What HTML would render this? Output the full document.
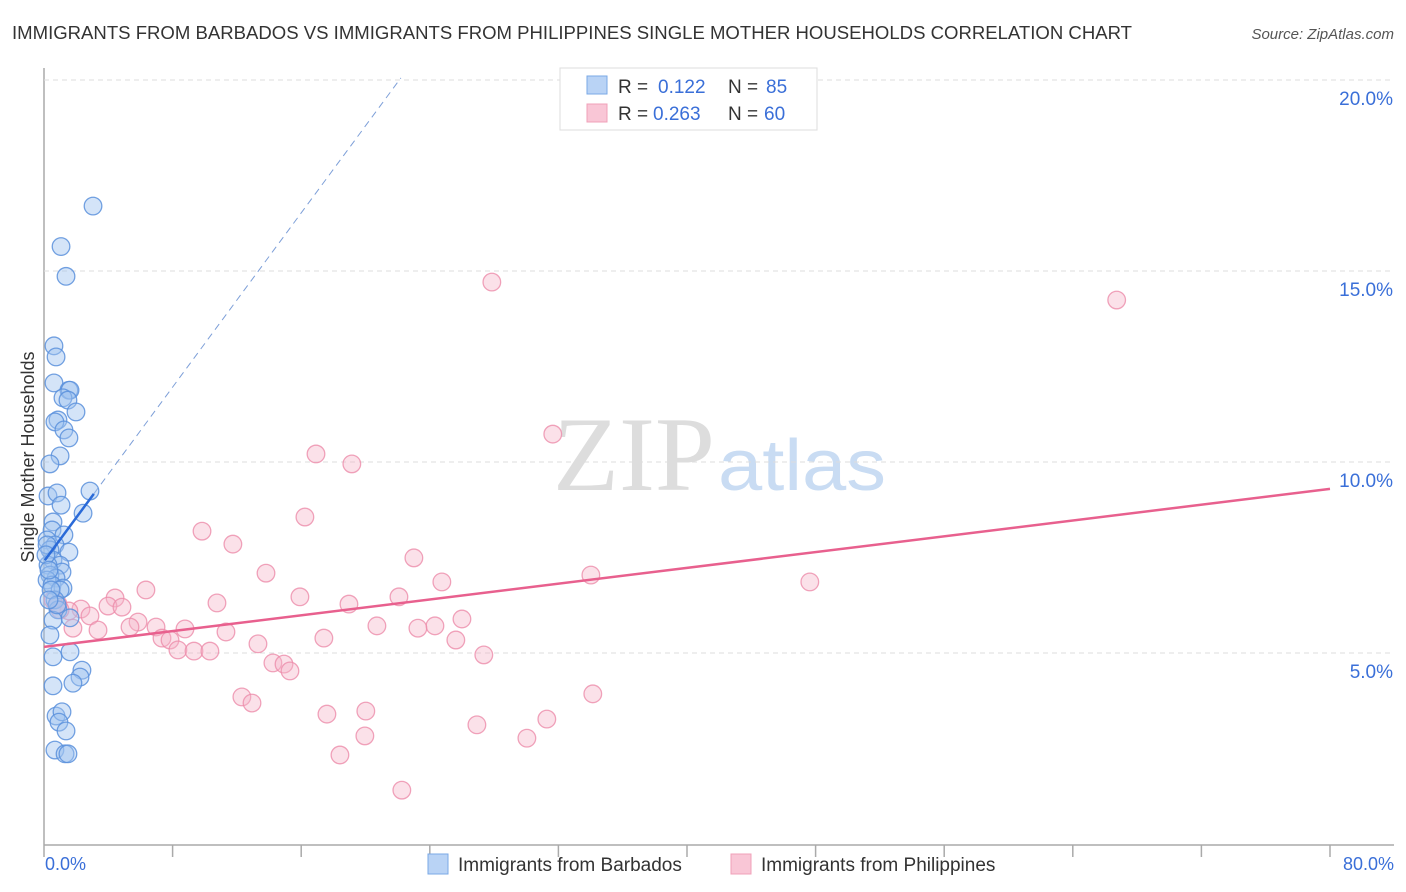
<!DOCTYPE html>
<html><head><meta charset="utf-8"><style>
body{margin:0;background:#fff;font-family:"Liberation Sans",sans-serif;}
svg{display:block}
</style></head><body>
<svg width="1406" height="892" id="chart">
<text x="12" y="39" font-size="18" fill="#333" textLength="1120" lengthAdjust="spacingAndGlyphs">IMMIGRANTS FROM BARBADOS VS IMMIGRANTS FROM PHILIPPINES SINGLE MOTHER HOUSEHOLDS CORRELATION CHART</text>
<text x="1394" y="39" font-size="15" fill="#555" font-style="italic" text-anchor="end">Source: ZipAtlas.com</text>
<text x="553" y="490" font-size="106" fill="#ddd" font-family="Liberation Serif,serif" textLength="162" lengthAdjust="spacingAndGlyphs">ZIP</text>
<text x="718" y="490" font-size="72" fill="#c9dcf3" textLength="168" lengthAdjust="spacingAndGlyphs">atlas</text>
<line x1="44" y1="68" x2="44" y2="845" stroke="#aaa" stroke-width="1.5"/>
<line x1="44" y1="845" x2="1394" y2="845" stroke="#aaa" stroke-width="1.5"/>
<text transform="translate(34,457) rotate(-90)" font-size="18" fill="#333" text-anchor="middle">Single Mother Households</text>
<text x="45" y="870" font-size="18" fill="#3a6fd8">0.0%</text>
<text x="1394" y="870" font-size="18" fill="#3a6fd8" text-anchor="end">80.0%</text>
<g id="grid"></g><g id="lines"></g><g id="pts"></g>
<g>
<rect x="560" y="68" width="257" height="62" fill="#fff" stroke="#ddd"/>
<rect x="587" y="76" width="20" height="18" fill="#b9d3f5" stroke="#7aa8e6"/>
<rect x="587" y="104" width="20" height="18" fill="#f9c6d6" stroke="#f0a0b8"/>
<text x="618" y="93" font-size="19" fill="#333">R =</text>
<text x="658" y="93" font-size="19" fill="#3a6fd8">0.122</text>
<text x="728" y="93" font-size="19" fill="#333">N =</text>
<text x="766" y="93" font-size="19" fill="#3a6fd8">85</text>
<text x="618" y="120" font-size="19" fill="#333">R =</text>
<text x="653" y="120" font-size="19" fill="#3a6fd8">0.263</text>
<text x="728" y="120" font-size="19" fill="#333">N =</text>
<text x="764" y="120" font-size="19" fill="#3a6fd8">60</text>
</g>
<g>
<rect x="428" y="854" width="20" height="20" fill="#b9d3f5" stroke="#7aa8e6"/>
<text x="458" y="871" font-size="19" fill="#333">Immigrants from Barbados</text>
<rect x="731" y="854" width="20" height="20" fill="#f9c6d6" stroke="#f0a0b8"/>
<text x="761" y="871" font-size="19" fill="#333">Immigrants from Philippines</text>
</g>
</svg>
<script>
const yTicks=[5,10,15,20];
const yTickLabels=["5.0%","10.0%","15.0%","20.0%"];
const xTicks=[0,8,16,24,32,40,48,56,64,72,80];
const blueX=[3.05,1.06,1.37,0.62,0.75,0.62,1.55,1.62,1.18,1.49,1.99,0.87,0.68,1.24,1.55,1.0,0.37,0.25,0.81,1.06,2.86,2.43,0.56,0.5,1.24,0.19,0.68,1.55,0.37,0.56,1.0,0.25,1.12,0.37,0.75,0.19,0.5,1.18,1.0,0.68,0.87,1.62,0.56,0.37,1.62,0.56,2.36,2.24,1.8,0.56,0.75,1.12,0.93,1.37,0.68,1.31,1.49,0.19,0.12,0.31,0.44,0.81,0.31];
const blueY=[16.7,15.64,14.86,13.04,12.75,12.07,11.88,11.88,11.68,11.62,11.31,11.1,11.05,10.84,10.63,10.16,9.95,9.11,9.19,8.87,9.24,8.66,8.43,8.22,8.09,7.96,7.83,7.64,7.7,7.43,7.3,7.3,7.12,7.04,6.96,6.91,6.78,6.7,6.65,6.39,6.13,5.92,5.86,5.47,5.03,4.9,4.55,4.37,4.21,4.14,3.35,3.46,3.19,2.96,2.46,2.36,2.36,7.83,7.57,7.17,6.65,6.26,6.39];
const pinkX=[27.86,66.73,31.65,16.92,19.15,16.23,9.83,11.75,23.01,13.81,34.02,24.75,47.64,6.34,22.08,15.92,4.42,10.76,18.97,3.98,4.85,2.3,1.55,26.0,2.86,5.85,20.71,24.32,23.26,5.35,6.97,8.77,1.8,3.36,11.32,7.34,17.41,7.84,25.62,8.33,9.33,10.32,13.31,27.36,14.24,14.93,15.3,12.31,12.94,34.14,20.02,17.6,31.28,26.93,19.96,30.04,18.41,22.26,0.87,0.56,1.0];
const pinkY=[14.71,14.24,10.73,10.21,9.95,8.56,8.19,7.85,7.49,7.09,7.04,6.86,6.86,6.65,6.47,6.47,6.44,6.31,6.28,6.23,6.2,6.15,6.1,5.89,5.97,5.81,5.71,5.71,5.65,5.68,5.68,5.63,5.65,5.6,5.55,5.39,5.39,5.34,5.34,5.08,5.05,5.05,5.24,4.95,4.74,4.71,4.53,3.85,3.69,3.93,3.48,3.4,3.27,3.12,2.83,2.77,2.33,1.41,6.28,6.39,6.13];
const blueTrend=[7.4,0.57];
const pinkTrend=[5.16,0.0517];
const NS="http://www.w3.org/2000/svg";
const X=v=>44+v*16.075, Y=v=>844-v*38.2;
function mk(t,a,p){const e=document.createElementNS(NS,t);for(const k in a)e.setAttribute(k,a[k]);p.appendChild(e);return e;}
const grid=document.getElementById('grid'),lines=document.getElementById('lines'),pts=document.getElementById('pts');
yTicks.forEach((t,i)=>{
 const l=mk('line',{x1:44,x2:1394,y1:Y(t),y2:Y(t),stroke:'#ddd','stroke-dasharray':'5,4'},grid);
 
 
 const tx=mk('text',{x:1393,y:Y(t)+25,'font-size':19,fill:'#3a6fd8','text-anchor':'end'},grid);
 tx.textContent=yTickLabels[i];
 
 
});
xTicks.forEach(t=>{
 const l=mk('line',{x1:X(t),x2:X(t),y1:845,y2:857,stroke:'#aaa','stroke-width':1.5},grid);
 
 
});
function dots(xs,ys,fill,stroke,name){xs.forEach((x,i)=>{
 const c=mk('circle',{cx:X(x),cy:Y(ys[i]),r:8.8,fill:fill,stroke:stroke,'stroke-width':1.3},pts);
 
 
});}
dots(pinkX,pinkY,'rgba(246,180,200,0.4)','rgba(236,140,170,0.8)','philippines-point');
dots(blueX,blueY,'rgba(160,196,240,0.45)','rgba(90,145,220,0.85)','barbados-point');
let l=mk('line',{x1:X(3.1),y1:Y(blueTrend[0]+blueTrend[1]*3.1),x2:X(22.2),y2:Y(blueTrend[0]+blueTrend[1]*22.2),stroke:'#7d9fd8','stroke-width':1,'stroke-dasharray':'7,5'},lines);


l=mk('line',{x1:X(0.05),y1:Y(blueTrend[0]+blueTrend[1]*0.05),x2:X(3.1),y2:Y(blueTrend[0]+blueTrend[1]*3.1),stroke:'#2a6ad8','stroke-width':2.5},pts);


l=mk('line',{x1:X(0),y1:Y(pinkTrend[0]),x2:X(80),y2:Y(pinkTrend[0]+pinkTrend[1]*80),stroke:'#e8608e','stroke-width':2.5},pts);


</script>
</body></html>
